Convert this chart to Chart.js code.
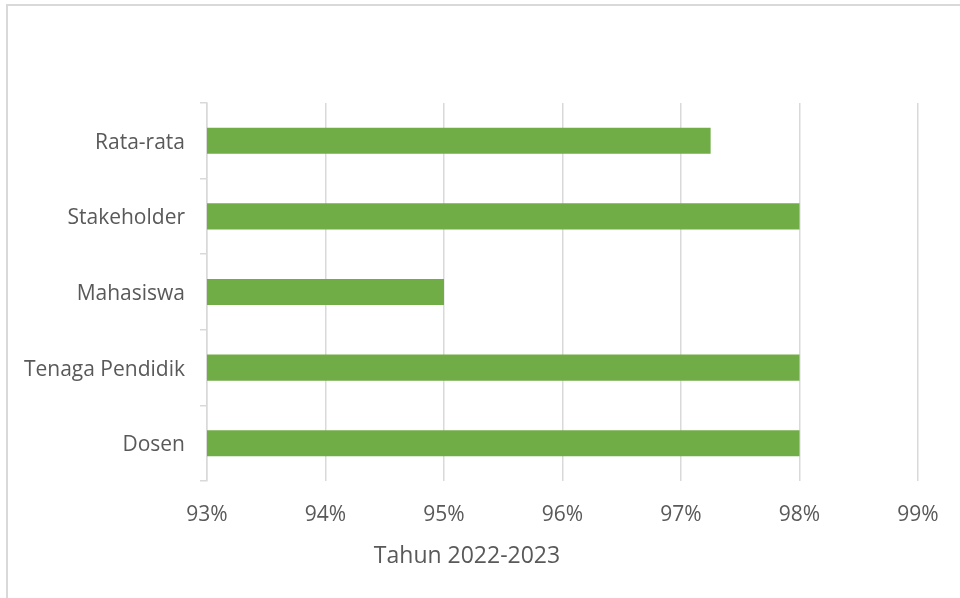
<!DOCTYPE html>
<html>
<head>
<meta charset="utf-8">
<script src="https://cdn.jsdelivr.net/npm/chart.js@4.4.1/dist/chart.umd.min.js"></script>
<style>
  html, body { margin: 0; padding: 0; background: #fff; overflow: hidden; }
  #frame {
    position: absolute; left: 6px; top: 4px;
    width: 1200px; height: 900px;
    border: 2px solid #d9d9d9; box-sizing: border-box;
  }
  #wrap { position: absolute; left: 0; top: 0; width: 960px; height: 598px; }
</style>
</head>
<body>
<div id="frame"></div>
<div id="wrap"><canvas id="chart"></canvas></div>
<script>
const categories = ["Rata-rata", "Stakeholder", "Mahasiswa", "Tenaga Pendidik", "Dosen"];
const values = [97.25, 98, 95, 98, 98];
const axisMin = 93;
const axisMax = 99;
const axisTitle = "Tahun 2022-2023";

const textColor = "#595959";
const lineColor = "#d9d9d9";

const ctx = document.getElementById("chart").getContext("2d");

const config = {
  type: "bar",
  data: {
    labels: categories,
    datasets: [
      {
        label: axisTitle,
        data: values,
        backgroundColor: "#70ad47",
        borderWidth: 0,
        categoryPercentage: 1,
        barPercentage: 0.345,
      },
    ],
  },
  options: {
    indexAxis: "y",
    responsive: true,
    maintainAspectRatio: false,
    animation: false,
    layout: {
      padding: { top: 103, right: 42, left: 16, bottom: 0 },
    },
    plugins: {
      legend: { display: false },
      tooltip: { enabled: false },
      title: {
        display: true,
        position: "bottom",
        text: axisTitle,
        color: textColor,
        font: { family: "'Open Sans'", size: 23, weight: "normal" },
        padding: { top: 0, bottom: 28 },
      },
    },
    scales: {
      x: {
        min: axisMin,
        max: axisMax,
        ticks: {
          stepSize: 1,
          color: textColor,
          font: { family: "'Open Sans'", size: 21 },
          padding: 21,
          callback: (v) => v + "%",
        },
        grid: {
          color: lineColor,
          lineWidth: 1.5,
          drawTicks: false,
        },
        border: { display: false },
        afterFit: (scale) => {
          scale.height = 61.4;
        },
      },
      y: {
        ticks: {
          color: textColor,
          font: { family: "'Open Sans'", size: 21 },
          padding: 15,
          labelOffset: 2,
        },
        grid: {
          offset: true,
          drawOnChartArea: false,
          color: lineColor,
          lineWidth: 1.5,
          tickLength: 7,
        },
        border: { display: true, color: lineColor, width: 1.5 },
        afterFit: (scale) => {
          scale.width = 191;
        },
      },
    },
  },
};

new Chart(ctx, config);
</script>
</body>
</html>
